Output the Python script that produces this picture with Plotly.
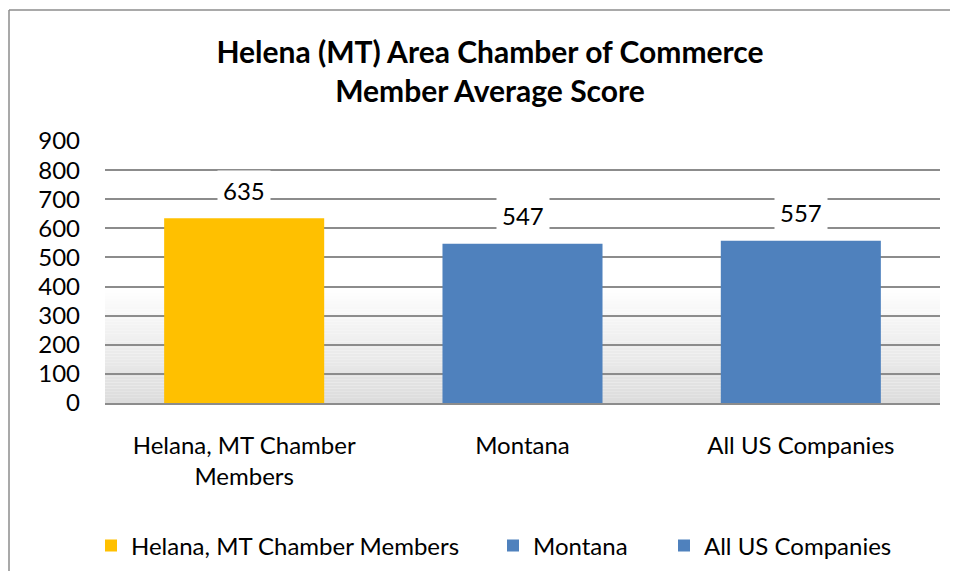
import plotly.graph_objects as go

categories = ["Helana, MT Chamber Members", "Montana", "All US Companies"]
tick_labels = ["Helana, MT Chamber<br>Members", "Montana", "All US Companies"]
values = [635, 547, 557]
colors = ["#FFC000", "#4F81BD", "#4F81BD"]
y_ticks = [0, 100, 200, 300, 400, 500, 600, 700, 800, 900]

OFF = 8  # page body margin
W, H = 958 - 2 * OFF, 579 - 2 * OFF
# plot area in page pixels: x 105..940, y 141..403
L, R, T, B = 105 - OFF, W - (940 - OFF), 141 - OFF, H - (403 - OFF)
pw, ph = W - L - R, H - T - B
FONT = "Lato, 'Open Sans', sans-serif"

def px_to_paper_x(p):
    return (p - OFF - L) / pw

def px_to_paper_y(p):
    return (H - B - (p - OFF)) / ph

fig = go.Figure()
legend_ids = ["legend", "legend2", "legend3"]
legend_marker_px = [104, 506, 677]
for cat, lab, val, col, lid in zip(categories, tick_labels, values, colors, legend_ids):
    fig.add_trace(go.Bar(
        x=[lab], y=[val], name=cat, marker=dict(color=col, line=dict(width=0)),
        width=0.575, hoverinfo="skip", legend=lid,
    ))

# gradient background bands (lower part of plot area)
shapes = []
n = 40
top = 400
for i in range(n):
    y0 = top * i / n
    y1 = top * (i + 1) / n
    frac = 1 - (i + 0.5) / n
    g = int(round(255 - frac * (255 - 220)))
    shapes.append(dict(type="rect", xref="paper", yref="y", x0=0, x1=1, y0=y0, y1=y1,
                       fillcolor=f"rgb({g},{g},{g})", line=dict(width=0), layer="below"))

# chart border: only its left and top edges are in view
border = dict(color="#8c8c8c", width=1.5)
shapes.append(dict(type="line", xref="paper", yref="paper",
                   x0=px_to_paper_x(9), x1=px_to_paper_x(9),
                   y0=px_to_paper_y(585), y1=px_to_paper_y(10), line=border, layer="above"))
shapes.append(dict(type="line", xref="paper", yref="paper",
                   x0=px_to_paper_x(9), x1=px_to_paper_x(965),
                   y0=px_to_paper_y(10), y1=px_to_paper_y(10), line=border, layer="above"))

annotations = []
for lab, val in zip(tick_labels, values):
    annotations.append(dict(x=lab, y=val, xref="x", yref="y", text=str(val), showarrow=False,
                            yshift=28, bgcolor="white", borderpad=5,
                            font=dict(family=FONT, size=24, color="#000000")))

leg_common = dict(orientation="h", xanchor="left", yanchor="middle",
                  font=dict(family=FONT, size=24, color="#000000"), itemclick=False,
                  bgcolor="rgba(0,0,0,0)")
fig.update_layout(
    width=W, height=H,
    margin=dict(l=L, r=R, t=T, b=B, pad=0, autoexpand=False),
    paper_bgcolor="white", plot_bgcolor="white",
    barmode="overlay",
    title=dict(text="<b>Helena (MT) Area Chamber of Commerce<br>Member Average Score</b>",
               x=(490 - OFF) / W, xanchor="center", y=1 - (63 - OFF) / H, yanchor="middle",
               font=dict(family=FONT, size=30, color="#000000")),
    font=dict(family=FONT, size=24, color="#000000"),
    showlegend=True,
    legend=dict(x=px_to_paper_x(legend_marker_px[0] - 13), y=px_to_paper_y(546), **leg_common),
    legend2=dict(x=px_to_paper_x(legend_marker_px[1] - 13), y=px_to_paper_y(546), **leg_common),
    legend3=dict(x=px_to_paper_x(legend_marker_px[2] - 13), y=px_to_paper_y(546), **leg_common),
    shapes=shapes,
    annotations=annotations,
)
fig.update_xaxes(showgrid=False, showline=True, linecolor="#8c8c8c", linewidth=1.5,
                 ticks="", ticklabelstandoff=20, tickfont=dict(size=24))
fig.update_yaxes(range=[0, 900], tickvals=y_ticks, showgrid=True, gridcolor="#8c8c8c",
                 gridwidth=1.5, zeroline=False, showline=False, ticks="",
                 ticklabelstandoff=24, tickfont=dict(size=24))

fig.write_html("out.html")
